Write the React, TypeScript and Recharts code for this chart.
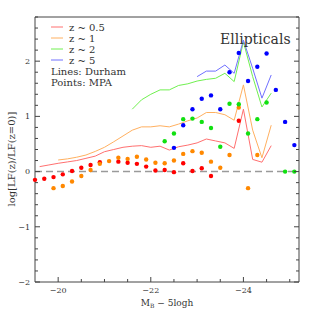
import React from "react";
import {
  ComposedChart,
  Line,
  Scatter,
  XAxis,
  YAxis,
  ReferenceLine,
  Legend,
} from "recharts";

const AXIS = "#444";
const INK = "#333";
const SERIF = "'DejaVu Serif', serif";

// MPA points (magnitude bins)
const mpaMags = [
  -19.5, -19.7, -19.9, -20.1, -20.3, -20.5, -20.7, -20.9, -21.1, -21.3,
  -21.5, -21.7, -21.9, -22.1, -22.3, -22.5, -22.7, -22.9, -23.1, -23.3,
  -23.5, -23.7, -23.9, -24.1, -24.3, -24.5, -24.7, -24.9, -25.1,
];
const mpaZ05 = [
  -0.15, -0.13, -0.1, -0.05, 0.01, 0.07, 0.12, 0.17, null, 0.18,
  0.16, 0.14, 0.09, 0.02, 0.03, -0.01, 0.15, 0.01, 0.06, -0.08,
  null, null, 0.92, null, null, null, null, null, null,
];
const mpaZ1 = [
  null, null, -0.3, -0.26, -0.18, -0.08, 0.03, 0.14, 0.19, 0.25,
  0.23, 0.27, 0.22, 0.16, 0.15, 0.2, 0.32, 0.37, 0.34, 0.18,
  0.07, 0.3, 1.16, -0.3, 0.3, null, null, null, null,
];
const mpaZ2 = [
  null, null, null, null, null, null, null, null, null, null,
  null, null, null, null, 0.55, 0.69, 0.95, 0.96, 0.9, 0.79,
  0.45, 1.23, 1.22, 0.69, 0.95, 1.25, null, 0.0, 0.0,
];
const mpaZ5 = [
  null, null, null, null, null, null, null, null, null, null,
  null, null, null, null, null, 0.43, 0.84, 1.13, 1.32, 1.38,
  1.13, 1.8, 2.15, 1.64, 1.9, 2.14, 1.48, 0.9, 0.48,
];

// Durham model curves
const durhamMags = [
  -19.6, -19.8, -20.0, -20.2, -20.4, -20.6, -20.8, -21.0, -21.2, -21.4,
  -21.6, -21.8, -22.0, -22.2, -22.4, -22.6, -22.8, -23.0, -23.2, -23.4,
  -23.6, -23.8, -24.0, -24.2, -24.4, -24.6,
];
const durhamZ05 = [
  0.09, 0.12, 0.15, 0.175, 0.2, 0.24, 0.28, 0.36, 0.4, 0.44,
  0.46, 0.47, 0.44, 0.46, 0.39, 0.45, 0.48, 0.52, 0.59, 0.555,
  0.52, 0.42, 1.13, 0.22, 0.17, 0.47,
];
const durhamZ1 = [
  null, null, 0.21, 0.23, 0.26, 0.3, 0.365, 0.44, 0.54, 0.645,
  0.75, 0.81, 0.81, 0.83, 0.81, 0.86, 0.92, 0.97, 1.07, 1.07,
  1.03, 0.93, 1.57, 0.75, 0.25, 0.84,
];
const durhamZ2 = [
  null, null, null, null, null, null, null, null, null, null,
  1.13, 1.3, 1.4, 1.48, 1.48, 1.56, 1.59, 1.64, 1.67, 1.69,
  1.78, 1.63, 2.35, 1.72, 1.17, 1.42,
];
const durhamZ5 = [
  null, null, null, null, null, null, null, null, null, null,
  null, null, null, null, null, null, null, 1.72, 1.82, 1.82,
  1.93, 1.78, 2.38, 1.87, 1.33, 1.75,
];

const xTicks = [-20, -20.5, -21, -21.5, -22, -22.5, -23, -23.5, -24, -24.5, -25];
const xLabelTicks = [-20, -22, -24];
const yTicks = [
  -2, -1.8, -1.6, -1.4, -1.2, -1, -0.8, -0.6, -0.4, -0.2, 0,
  0.2, 0.4, 0.6, 0.8, 1, 1.2, 1.4, 1.6, 1.8, 2, 2.2, 2.4, 2.6, 2.8,
];
const yLabelTicks = [-2, -1, 0, 1, 2];

const series = [
  { name: "z ~ 0.5", line: "#ff7070", point: "#ff0000", durham: durhamZ05, mpa: mpaZ05 },
  { name: "z ~ 1", line: "#ffb060", point: "#ff8800", durham: durhamZ1, mpa: mpaZ1 },
  { name: "z ~ 2", line: "#70f050", point: "#10e010", durham: durhamZ2, mpa: mpaZ2 },
  { name: "z ~ 5", line: "#7070ff", point: "#0000ff", durham: durhamZ5, mpa: mpaZ5 },
];

const toPoints = (xs: number[], ys: (number | null)[]) =>
  xs.map((mag, i) => ({ mag, lf: ys[i] })).filter((d) => d.lf !== null);

const fmt = (v: number) => (v < 0 ? `\u2212${Math.abs(v)}` : `${v}`);
const inList = (v: number, list: number[]) => list.some((t) => Math.abs(t - v) < 1e-6);

const BottomTick = (props: any) => {
  const { x, y, payload } = props;
  const major = inList(payload.value, xLabelTicks);
  return (
    <g>
      <line x1={x} x2={x} y1={y} y2={y - (major ? 5 : 3)} stroke={AXIS} />
      {major && (
        <text x={x} y={y + 5} dy="0.71em" textAnchor="middle" fontSize={8} fontFamily={SERIF} fill={INK}>
          {fmt(payload.value)}
        </text>
      )}
    </g>
  );
};

const TopTick = (props: any) => {
  const { x, y, payload } = props;
  const major = inList(payload.value, xLabelTicks);
  return <line x1={x} x2={x} y1={y} y2={y + (major ? 5 : 3)} stroke={AXIS} />;
};

const LeftTick = (props: any) => {
  const { x, y, payload } = props;
  const major = inList(payload.value, yLabelTicks);
  return (
    <g>
      <line x1={x} x2={x + (major ? 5 : 3)} y1={y} y2={y} stroke={AXIS} />
      {major && (
        <text x={x - 5} y={y} dy="0.35em" textAnchor="end" fontSize={8} fontFamily={SERIF} fill={INK}>
          {fmt(payload.value)}
        </text>
      )}
    </g>
  );
};

const RightTick = (props: any) => {
  const { x, y, payload } = props;
  const major = inList(payload.value, yLabelTicks);
  return <line x1={x} x2={x - (major ? 5 : 3)} y1={y} y2={y} stroke={AXIS} />;
};

const Dot = (color: string) => (props: any) =>
  <circle cx={props.cx} cy={props.cy} r={2.2} fill={color} />;

const Overlay = () => (
  <svg width={316} height={316} style={{ position: "absolute", left: 0, top: 0 }}>
    {series.map((s, i) => (
      <g key={s.name}>
        <line x1={51} x2={63} y1={27 + i * 11} y2={27 + i * 11} stroke={s.line} />
        <text x={69} y={27 + i * 11} dy="0.35em" fontSize={10} fontFamily={SERIF} fill={INK}>
          {s.name}
        </text>
      </g>
    ))}
    <text x={51} y={71} dy="0.35em" fontSize={10} fontFamily={SERIF} fill={INK}>
      Lines: Durham
    </text>
    <text x={51} y={82} dy="0.35em" fontSize={10} fontFamily={SERIF} fill={INK}>
      Points: MPA
    </text>
    <text x={220} y={44} fontSize={14} fontFamily={SERIF} fill={INK}>
      Ellipticals
    </text>
    <text x={167} y={306} textAnchor="middle" fontSize={9} fontFamily={SERIF} fill={INK} style={{ whiteSpace: "pre" }}>
      M<tspan fontSize={6} dy={2}>B</tspan>
      <tspan dy={-2}>{" \u2212 5logh"}</tspan>
    </text>
    <text
      transform="translate(11,159) rotate(-90)"
      textAnchor="middle"
      dy="0.35em"
      fontSize={10}
      fontFamily={SERIF}
      fill={INK}
    >
      log[LF(z)/LF(z=0)]
    </text>
  </svg>
);

export default function App() {
  return (
    <div style={{ position: "absolute", left: 0, top: 0 }}>
      <ComposedChart width={316} height={316} margin={{ top: 16, right: 16, left: 0, bottom: 0 }}>
        <XAxis
          xAxisId="b"
          type="number"
          dataKey="mag"
          domain={[-25.2, -19.5]}
          reversed
          ticks={xTicks}
          interval={0}
          tickSize={0}
          tickMargin={0}
          tickLine={false}
          tick={BottomTick}
          height={34}
          axisLine={{ stroke: AXIS }}
        />
        <XAxis
          xAxisId="t"
          orientation="top"
          type="number"
          domain={[-25.2, -19.5]}
          allowDataOverflow
          reversed
          ticks={xTicks}
          interval={0}
          tickSize={0}
          tickMargin={0}
          tickLine={false}
          tick={TopTick}
          height={1}
          axisLine={{ stroke: AXIS }}
        />
        <YAxis
          yAxisId="l"
          type="number"
          dataKey="lf"
          domain={[-2, 2.8]}
          ticks={yTicks}
          interval={0}
          tickSize={0}
          tickMargin={0}
          tickLine={false}
          tick={LeftTick}
          width={35}
          axisLine={{ stroke: AXIS }}
        />
        <YAxis
          yAxisId="r"
          orientation="right"
          type="number"
          domain={[-2, 2.8]}
          allowDataOverflow
          ticks={yTicks}
          interval={0}
          tickSize={0}
          tickMargin={0}
          tickLine={false}
          tick={RightTick}
          width={1}
          axisLine={{ stroke: AXIS }}
        />
        <ReferenceLine xAxisId="b" yAxisId="l" y={0} stroke="#9a9a9a" strokeWidth={1.5} strokeDasharray="7 4" />
        {series.map((s) => (
          <Line
            key={`line-${s.name}`}
            xAxisId="b"
            yAxisId="l"
            data={toPoints(durhamMags, s.durham)}
            dataKey="lf"
            stroke={s.line}
            strokeWidth={1}
            dot={false}
            activeDot={false}
            isAnimationActive={false}
          />
        ))}
        {series.map((s) => (
          <Scatter
            key={`pts-${s.name}`}
            xAxisId="b"
            yAxisId="l"
            data={toPoints(mpaMags, s.mpa)}
            dataKey="lf"
            shape={Dot(s.point)}
            isAnimationActive={false}
          />
        ))}
        <Legend
          layout="vertical"
          align="center"
          verticalAlign="middle"
          width={316}
          height={316}
          wrapperStyle={{ top: 0, left: 0, width: 316, height: 316, pointerEvents: "none" }}
          content={() => <Overlay />}
        />
      </ComposedChart>
    </div>
  );
}
